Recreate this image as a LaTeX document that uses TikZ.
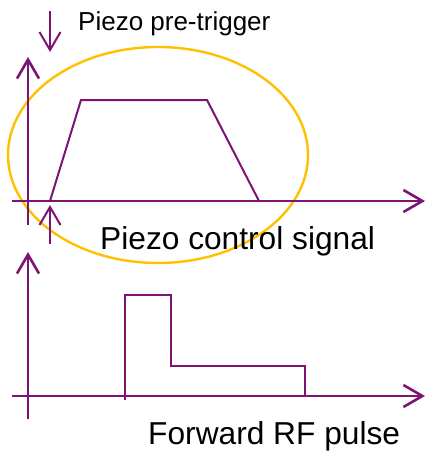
\documentclass[tikz,border=0pt]{standalone}
\usepackage{fontspec}
\setmainfont{Liberation Sans}
\usetikzlibrary{arrows.meta,positioning}
\definecolor{plotPurple}{RGB}{125,20,115}
\definecolor{markOrange}{RGB}{255,192,0}
\tikzset{
  axis/.style={-{Straight Barb[length=19pt,width=22pt]}, line width=2.6pt, draw=plotPurple},
  trace/.style={line width=2pt, draw=plotPurple, line join=miter},
  marker/.style={-{Straight Barb[length=18pt,width=21pt]}, line width=2pt, draw=plotPurple},
  halo/.style={draw=markOrange, line width=2.4pt},
  biglabel/.style={font=\fontsize{31.7}{36}\selectfont, inner sep=0pt, anchor=base west},
  smalllabel/.style={font=\fontsize{26}{30}\selectfont, inner sep=0pt, anchor=base west}
}
\begin{document}
\begin{tikzpicture}[x=1pt, y=-1pt]
  \useasboundingbox (0,0) rectangle (427,452);
  % piezo panel
  \draw[halo] (158,155) ellipse [x radius=150, y radius=108];
  \coordinate (pzYlo) at (28,225);
  \coordinate (pzYhi) at (28,57);
  \coordinate (pzXlo) at (12,201);
  \coordinate (pzXhi) at (425,201);
  \draw[axis] (pzYlo) -- (pzYhi);
  \draw[axis] (pzXlo) -- (pzXhi);
  \draw[trace] (50,201) -- (81,100) -- (207,100) -- (259,201);
  \coordinate (trigTop) at (50,11);
  \coordinate (trigTopTip) at (50,52);
  \coordinate (trigLow) at (50,244);
  \coordinate (trigLowTip) at (50,205);
  \draw[marker] (trigTop) -- (trigTopTip);
  \draw[marker] (trigLow) -- (trigLowTip);
  \node[smalllabel] (pretrig) at (78,31) {Piezo pre-trigger};
  \node[biglabel] (pzlabel) at (100,249) {Piezo control signal};
  % RF panel
  \coordinate (rfYlo) at (28,419);
  \coordinate (rfYhi) at (28,252);
  \coordinate (rfXlo) at (12,396);
  \coordinate (rfXhi) at (425,396);
  \draw[axis] (rfYlo) -- (rfYhi);
  \draw[axis] (rfXlo) -- (rfXhi);
  \draw[trace] (125,400) -- (125,295) -- (171,295) -- (171,366) -- (305,366) -- (305,396);
  \node[biglabel] (rflabel) at (148,444) {Forward RF pulse};
\end{tikzpicture}
\end{document}
